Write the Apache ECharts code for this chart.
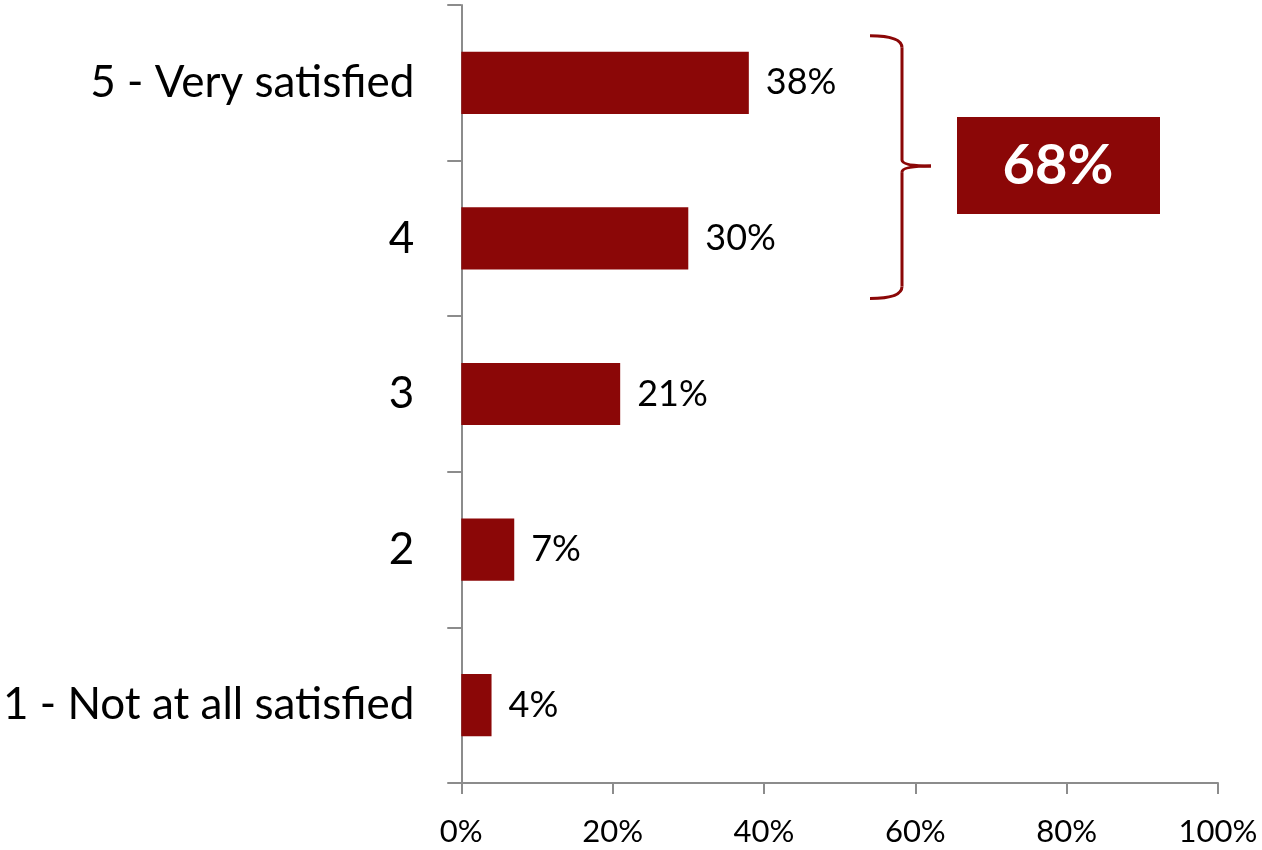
<!DOCTYPE html>
<html>
<head>
<meta charset="utf-8">
<script src="https://cdn.jsdelivr.net/npm/echarts@6/dist/echarts.min.js"></script>
<style>
  html, body { margin: 0; padding: 0; background: #fff; }
  #chart { width: 1262px; height: 850px; }
</style>
</head>
<body>
<div id="chart"></div>
<script>
// Satisfaction ratings, listed bottom to top on the category axis
const categories = ['1 - Not at all satisfied', '2', '3', '4', '5 - Very satisfied'];
const shares = [4, 7, 21, 30, 38];
const xTicks = [0, 20, 40, 60, 80, 100];
// Ratings grouped by the brace (top two boxes)
const groupedCategories = ['4', '5 - Very satisfied'];

const BAR = '#8B0707';
const AXIS = '#8c8c8c';
const FONT = 'Lato, "Open Sans", sans-serif';

const chart = echarts.init(document.getElementById('chart'));

chart.setOption({
  animation: false,
  grid: { left: 461, right: 44, top: 5, bottom: 67 },
  xAxis: {
    type: 'value',
    min: xTicks[0],
    max: xTicks[xTicks.length - 1],
    interval: xTicks[1] - xTicks[0],
    axisLine: { show: true, lineStyle: { color: AXIS, width: 2 } },
    axisTick: { show: true, length: 11, lineStyle: { color: AXIS, width: 2 } },
    splitLine: { show: false },
    axisLabel: {
      formatter: v => v + '%',
      color: '#000', fontFamily: FONT, fontSize: 31, margin: 33
    }
  },
  yAxis: {
    type: 'category',
    data: categories,
    axisLine: { show: true, lineStyle: { color: AXIS, width: 2 } },
    axisTick: { show: true, length: 14, lineStyle: { color: AXIS, width: 2 } },
    axisLabel: { color: '#000', fontFamily: FONT, fontSize: 44, margin: 47 }
  },
  series: [{
    type: 'bar',
    data: shares,
    barCategoryGap: '60%',
    itemStyle: { color: BAR },
    label: {
      show: true, position: 'right', distance: 17,
      formatter: p => p.value + '%',
      color: '#000', fontFamily: FONT, fontSize: 36
    }
  }]
});

// Brace and total box drawn next to the grouped bars
function drawAnnotation() {
  const topIdx = categories.indexOf(groupedCategories[1]);
  const botIdx = categories.indexOf(groupedCategories[0]);
  const yTop = chart.convertToPixel({ yAxisIndex: 0 }, categories[topIdx]) - 47;
  const yBot = chart.convertToPixel({ yAxisIndex: 0 }, categories[botIdx]) + 60;
  const yMid = (yTop + yBot) / 2 - 1;
  const xL = 870, xV = 902, xTip = 931;
  const r = 6;
  const stroke = { fill: null, stroke: BAR, lineWidth: 3 };
  const total = groupedCategories
    .map(c => shares[categories.indexOf(c)])
    .reduce((a, b) => a + b, 0);
  chart.setOption({
    graphic: [
      { type: 'bezierCurve', shape: { x1: xL, y1: yTop, cpx1: xV, cpy1: yTop, x2: xV, y2: yTop + 2 * r }, style: stroke },
      { type: 'line', shape: { x1: xV, y1: yTop + 2 * r, x2: xV, y2: yMid - r }, style: stroke },
      { type: 'bezierCurve', shape: { x1: xV, y1: yMid - r, cpx1: xV, cpy1: yMid, x2: xTip, y2: yMid }, style: stroke },
      { type: 'bezierCurve', shape: { x1: xTip, y1: yMid, cpx1: xV, cpy1: yMid, x2: xV, y2: yMid + r }, style: stroke },
      { type: 'line', shape: { x1: xV, y1: yMid + r, x2: xV, y2: yBot - 2 * r }, style: stroke },
      { type: 'bezierCurve', shape: { x1: xV, y1: yBot - 2 * r, cpx1: xV, cpy1: yBot, x2: xL, y2: yBot }, style: stroke },
      {
        type: 'rect',
        shape: { x: 957, y: yMid - 49, width: 203, height: 97 },
        style: { fill: BAR }
      },
      {
        type: 'text',
        x: 1058, y: yMid,
        style: {
          text: total + '%',
          fill: '#fff',
          font: 'bold 56px ' + FONT,
          align: 'center',
          verticalAlign: 'middle'
        }
      }
    ]
  });
}
drawAnnotation();
</script>
</body>
</html>
